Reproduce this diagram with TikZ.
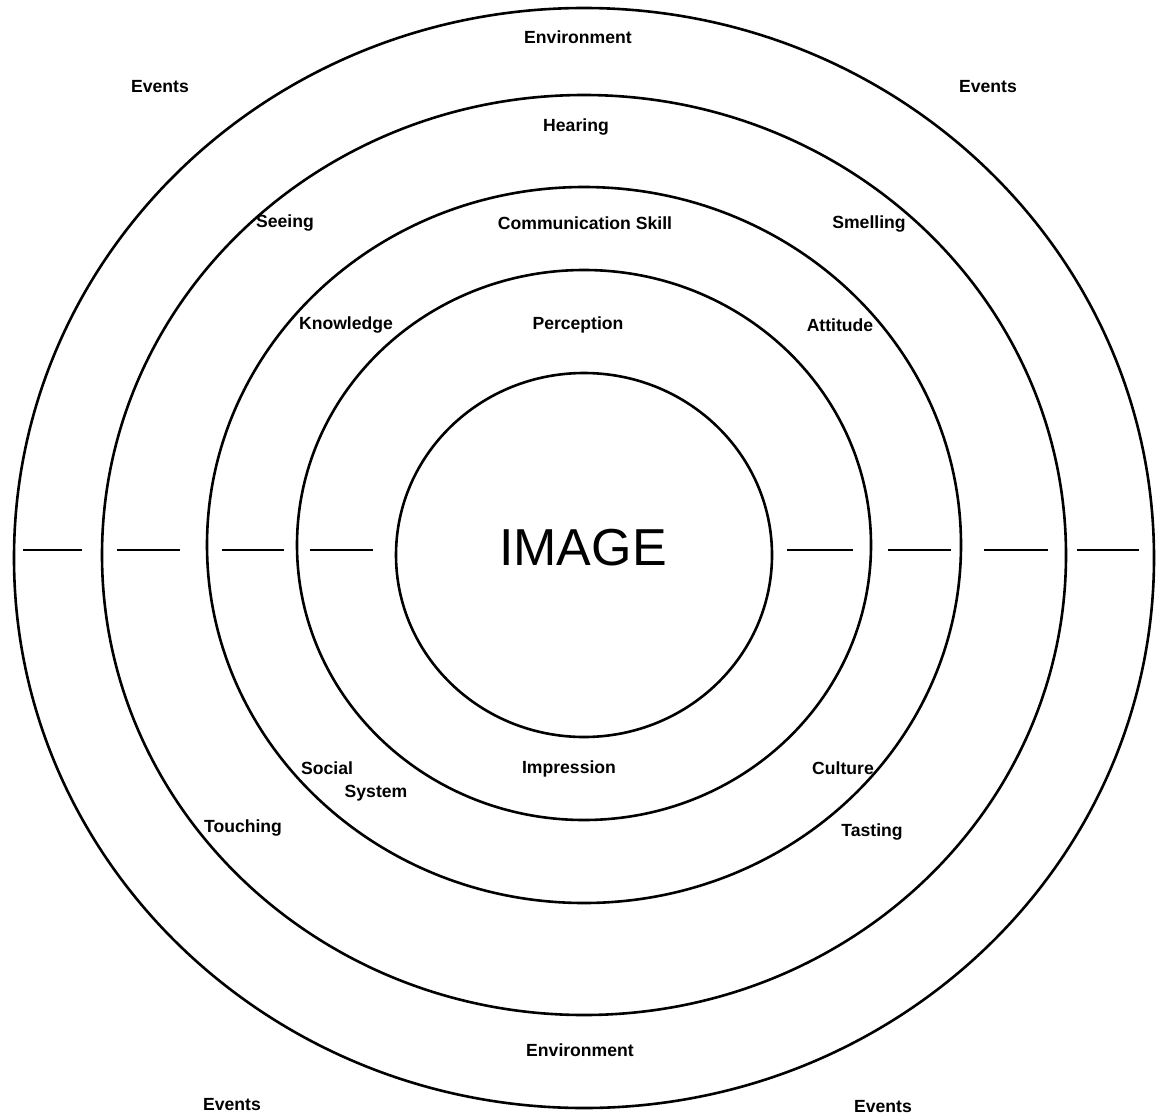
\documentclass[tikz,border=0pt]{standalone}
\usepackage{fontspec}
\setmainfont{Liberation Sans}
\begin{document}
\begin{tikzpicture}[x=0.5pt,y=-0.5pt,
    ring/.style={black,line width=1.3pt},
    lbl/.style={font=\fontsize{8.8}{10}\selectfont\bfseries,inner sep=0pt}]
  \useasboundingbox (0,0) rectangle (1161,1119);
  % rings: centre y, x radius, y radius (pt)
  \foreach \cy/\rx/\ry in {558/285/275, 555/241/230, 545/188.5/179, 545/143.5/137.5, 555/94/91}
    \draw[ring] (584,\cy) ellipse [x radius=\rx pt, y radius=\ry pt];
  % broken axis
  \foreach \a/\b in {23/82, 117/180, 222/284, 310/373, 787/853, 888/951, 984/1048, 1077/1139}
    \draw[ring] (\a,550) -- (\b,550);
  \node (image) at (583,548) {\fontsize{26}{30}\selectfont IMAGE};
  \node[lbl] (envtop) at (578,37) {Environment};
  \node[lbl] (envbot) at (580,1050) {Environment};
  \node[lbl] (evtl) at (160,87) {Events};
  \node[lbl] (evtr) at (988,87) {Events};
  \node[lbl] (evbl) at (232,1105) {Events};
  \node[lbl] (evbr) at (883,1107) {Events};
  \node[lbl] (hearing) at (576,127) {Hearing};
  \node[lbl] (seeing) at (285,223) {Seeing};
  \node[lbl] (smelling) at (869,224) {Smelling};
  \node[lbl] (touching) at (243,828) {Touching};
  \node[lbl] (tasting) at (872,832) {Tasting};
  \node[lbl] (comm) at (585,223) {Communication Skill};
  \node[lbl] (knowledge) at (346,325) {Knowledge};
  \node[lbl] (attitude) at (840,325) {Attitude};
  \node[lbl] (social) at (327,768) {Social};
  \node[lbl] (system) at (376,793) {System};
  \node[lbl] (culture) at (843,768) {Culture};
  \node[lbl] (perception) at (578,325) {Perception};
  \node[lbl] (impression) at (569,769) {Impression};
\end{tikzpicture}
\end{document}
